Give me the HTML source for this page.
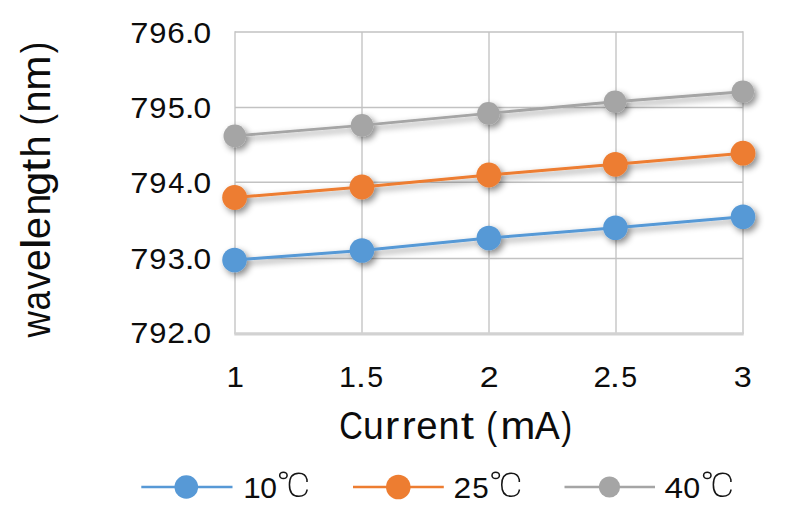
<!DOCTYPE html>
<html><head><meta charset="utf-8">
<style>
html,body{margin:0;padding:0;background:#fff;}
body{width:800px;height:528px;overflow:hidden;font-family:"Liberation Sans",sans-serif;}
svg{display:block;}
text{font-family:"Liberation Sans",sans-serif;fill:#0c0c0c;}
</style></head><body>
<svg width="800" height="528" viewBox="0 0 800 528">
<defs>
<filter id="sh" x="-5%" y="-30%" width="110%" height="180%" filterUnits="objectBoundingBox">
<feDropShadow dx="2.8" dy="3.2" stdDeviation="3" flood-color="#000" flood-opacity="0.45"/>
</filter>
</defs>
<rect width="800" height="528" fill="#fff"/>
<!-- gridlines -->
<g stroke="#c2c2c2" stroke-width="1.35" fill="none">
<line x1="235" y1="32" x2="743" y2="32"/>
<line x1="235" y1="107.5" x2="743" y2="107.5"/>
<line x1="235" y1="182.2" x2="743" y2="182.2"/>
<line x1="235" y1="258.5" x2="743" y2="258.5"/>
<line x1="235" y1="31.3" x2="235" y2="334"/>
<line x1="362" y1="32" x2="362" y2="334"/>
<line x1="489" y1="32" x2="489" y2="334"/>
<line x1="616" y1="32" x2="616" y2="334"/>
<line x1="743" y1="31.3" x2="743" y2="334"/>
</g>
<line x1="234.3" y1="333.9" x2="743.7" y2="333.9" stroke="#d2d2d2" stroke-width="3.2"/>
<!-- series -->
<g filter="url(#sh)">
<polyline points="234.8,135.9 362,125.4 488.4,113.4 615,101.8 742.8,91.8" fill="none" stroke="#a5a5a5" stroke-width="2.9"/>
<g fill="#a5a5a5"><circle cx="234.8" cy="135.9" r="11.3"/><circle cx="362" cy="125.4" r="11.3"/><circle cx="488.4" cy="113.4" r="11.3"/><circle cx="615" cy="101.8" r="11.3"/><circle cx="742.8" cy="91.8" r="11.3"/></g>
</g>
<g filter="url(#sh)">
<polyline points="234.6,197.5 361.9,187 488.8,175 615.3,164.3 743,153.2" fill="none" stroke="#ed7d31" stroke-width="3.0"/>
<g fill="#ed7d31"><circle cx="234.6" cy="197.5" r="12.4"/><circle cx="361.9" cy="187" r="12.4"/><circle cx="488.8" cy="175" r="12.4"/><circle cx="615.3" cy="164.3" r="12.4"/><circle cx="743" cy="153.2" r="12.4"/></g>
</g>
<g filter="url(#sh)">
<polyline points="234.5,260 361.9,250.5 488.8,238 615.4,227.8 743,216.7" fill="none" stroke="#5799d6" stroke-width="3.0"/>
<g fill="#5799d6"><circle cx="234.5" cy="260" r="12.3"/><circle cx="361.9" cy="250.5" r="12.3"/><circle cx="488.8" cy="238" r="12.3"/><circle cx="615.4" cy="227.8" r="12.3"/><circle cx="743" cy="216.7" r="12.3"/></g>
</g>
<!-- y tick labels -->
<g>
<text transform="translate(130.27,43.3) scale(1.077,1)" font-size="30.3">7</text>
<text transform="translate(149.26,43.3) scale(1.019,1)" font-size="30.3">9</text>
<text transform="translate(167.32,43.3) scale(1.040,1)" font-size="30.3">6</text>
<text transform="translate(184.59,43.3) scale(1.220,1)" font-size="30.3">.</text>
<text transform="translate(193.43,43.3) scale(1.045,1)" font-size="30.3">0</text>
<text transform="translate(130.27,118.0) scale(1.077,1)" font-size="30.3">7</text>
<text transform="translate(149.26,118.0) scale(1.019,1)" font-size="30.3">9</text>
<text transform="translate(167.67,118.0) scale(1.018,1)" font-size="30.3">5</text>
<text transform="translate(184.59,118.0) scale(1.220,1)" font-size="30.3">.</text>
<text transform="translate(193.43,118.0) scale(1.045,1)" font-size="30.3">0</text>
<text transform="translate(130.27,192.5) scale(1.077,1)" font-size="30.3">7</text>
<text transform="translate(149.26,192.5) scale(1.019,1)" font-size="30.3">9</text>
<text transform="translate(168.22,192.5) scale(0.957,1)" font-size="30.3">4</text>
<text transform="translate(184.59,192.5) scale(1.220,1)" font-size="30.3">.</text>
<text transform="translate(193.43,192.5) scale(1.045,1)" font-size="30.3">0</text>
<text transform="translate(130.27,268.9) scale(1.077,1)" font-size="30.3">7</text>
<text transform="translate(149.26,268.9) scale(1.019,1)" font-size="30.3">9</text>
<text transform="translate(167.67,268.9) scale(1.018,1)" font-size="30.3">3</text>
<text transform="translate(184.59,268.9) scale(1.220,1)" font-size="30.3">.</text>
<text transform="translate(193.43,268.9) scale(1.045,1)" font-size="30.3">0</text>
<text transform="translate(130.27,343.3) scale(1.077,1)" font-size="30.3">7</text>
<text transform="translate(149.26,343.3) scale(1.019,1)" font-size="30.3">9</text>
<text transform="translate(167.30,343.3) scale(1.055,1)" font-size="30.3">2</text>
<text transform="translate(184.59,343.3) scale(1.220,1)" font-size="30.3">.</text>
<text transform="translate(193.43,343.3) scale(1.045,1)" font-size="30.3">0</text>
</g>
<!-- x tick labels -->
<g>
<text transform="translate(226.49,387) scale(1.036,1)" font-size="30.3">1</text>
<text transform="translate(339.06,387) scale(1.005,1)" font-size="30.3">1</text>
<text transform="translate(355.79,387) scale(1.220,1)" font-size="30.3">.</text>
<text transform="translate(367.26,387) scale(0.941,1)" font-size="30.3">5</text>
<text transform="translate(479.70,387) scale(1.120,1)" font-size="30.3">2</text>
<text transform="translate(593.62,387) scale(1.041,1)" font-size="30.3">2</text>
<text transform="translate(609.79,387) scale(1.220,1)" font-size="30.3">.</text>
<text transform="translate(621.26,387) scale(0.941,1)" font-size="30.3">5</text>
<text transform="translate(733.81,387) scale(1.067,1)" font-size="30.3">3</text>
</g>
<!-- x axis title -->
<g>
<text transform="translate(339.24,438.8) scale(0.840,1)" font-size="39">C</text>
<text transform="translate(362.94,438.8) scale(0.956,1)" font-size="39">u</text>
<text transform="translate(384.95,438.8) scale(1.097,1)" font-size="39">r</text>
<text transform="translate(401.70,438.8) scale(1.077,1)" font-size="39">r</text>
<text transform="translate(416.14,438.8) scale(0.982,1)" font-size="39">e</text>
<text transform="translate(438.48,438.8) scale(0.969,1)" font-size="39">n</text>
<text transform="translate(460.73,438.8) scale(1.220,1)" font-size="39">t</text>
<text transform="translate(486.26,438.8) scale(0.840,1)" font-size="39">(</text>
<text transform="translate(500.41,438.8) scale(1.073,1)" font-size="39">m</text>
<text transform="translate(534.87,438.8) scale(0.963,1)" font-size="39">A</text>
<text transform="translate(561.22,438.8) scale(0.840,1)" font-size="39">)</text>
</g>
<!-- y axis title -->
<g>
<text transform="translate(49.6,337.50) rotate(-90) scale(0.909,1.0)" font-size="40.3">w</text>
<text transform="translate(49.6,310.62) rotate(-90) scale(0.870,1.0)" font-size="40.3">a</text>
<text transform="translate(49.6,289.72) rotate(-90) scale(0.920,1.0)" font-size="40.3">v</text>
<text transform="translate(49.6,271.10) rotate(-90) scale(0.971,1.0)" font-size="40.3">e</text>
<text transform="translate(49.6,249.14) rotate(-90) scale(1.220,1.0)" font-size="40.3">l</text>
<text transform="translate(49.6,239.23) rotate(-90) scale(0.990,1.0)" font-size="40.3">e</text>
<text transform="translate(49.6,215.52) rotate(-90) scale(0.976,1.0)" font-size="40.3">n</text>
<text transform="translate(49.6,195.63) rotate(-90) scale(1.075,1.0)" font-size="40.3">g</text>
<text transform="translate(49.6,172.04) rotate(-90) scale(1.180,1.0)" font-size="40.3">t</text>
<text transform="translate(49.6,157.38) rotate(-90) scale(0.987,1.0)" font-size="40.3">h</text>
<text transform="translate(49.6,125.35) rotate(-90) scale(0.840,1.0)" font-size="40.3">(</text>
<text transform="translate(49.6,112.43) rotate(-90) scale(0.979,1.0)" font-size="40.3">n</text>
<text transform="translate(49.6,90.72) rotate(-90) scale(1.049,1.0)" font-size="40.3">m</text>
<text transform="translate(49.6,53.23) rotate(-90) scale(0.840,1.0)" font-size="40.3">)</text>
</g>
<!-- legend -->
<g>
<line x1="141.3" y1="487" x2="232.5" y2="487" stroke="#5799d6" stroke-width="2.7"/>
<circle cx="186.3" cy="487" r="11.8" fill="#5799d6"/>
<line x1="353" y1="487" x2="443.8" y2="487" stroke="#ed7d31" stroke-width="2.7"/>
<circle cx="398.3" cy="487" r="12.3" fill="#ed7d31"/>
<line x1="564.5" y1="487" x2="655" y2="487" stroke="#a5a5a5" stroke-width="2.7"/>
<circle cx="609.5" cy="487" r="10.6" fill="#a5a5a5"/>
</g>
<g>
<text transform="translate(243.29,498.2) scale(1.068,1)" font-size="29.4">1</text>
<text transform="translate(260.20,498.2) scale(1.020,1)" font-size="29.4">0</text>
<text transform="translate(453.41,498.2) scale(1.080,1)" font-size="29.4">2</text>
<text transform="translate(472.32,498.2) scale(1.006,1)" font-size="29.4">5</text>
<text transform="translate(664.42,498.2) scale(1.135,1)" font-size="29.4">4</text>
<text transform="translate(683.28,498.2) scale(1.035,1)" font-size="29.4">0</text>
</g>
<g fill="none" stroke="#151515" stroke-width="1.55" stroke-linejoin="round">
<g><ellipse cx="283.4" cy="475.4" rx="3.7" ry="3.15"/>
<path d="M307,482 L307,479.6 C306.2,475.6 303.2,473.2 298.8,473.2 C292.8,473.2 289.45,476.8 289.45,484.7 C289.45,492.6 292.8,496.3 298.8,496.3 C303.4,496.3 306.3,494 307,490.4 L307,489.4"/></g>
<g transform="translate(212.3,0)"><ellipse cx="283.4" cy="475.4" rx="3.7" ry="3.15"/>
<path d="M307,482 L307,479.6 C306.2,475.6 303.2,473.2 298.8,473.2 C292.8,473.2 289.45,476.8 289.45,484.7 C289.45,492.6 292.8,496.3 298.8,496.3 C303.4,496.3 306.3,494 307,490.4 L307,489.4"/></g>
<g transform="translate(423.9,0)"><ellipse cx="283.4" cy="475.4" rx="3.7" ry="3.15"/>
<path d="M307,482 L307,479.6 C306.2,475.6 303.2,473.2 298.8,473.2 C292.8,473.2 289.45,476.8 289.45,484.7 C289.45,492.6 292.8,496.3 298.8,496.3 C303.4,496.3 306.3,494 307,490.4 L307,489.4"/></g>
</g>
</svg>
</body></html>
